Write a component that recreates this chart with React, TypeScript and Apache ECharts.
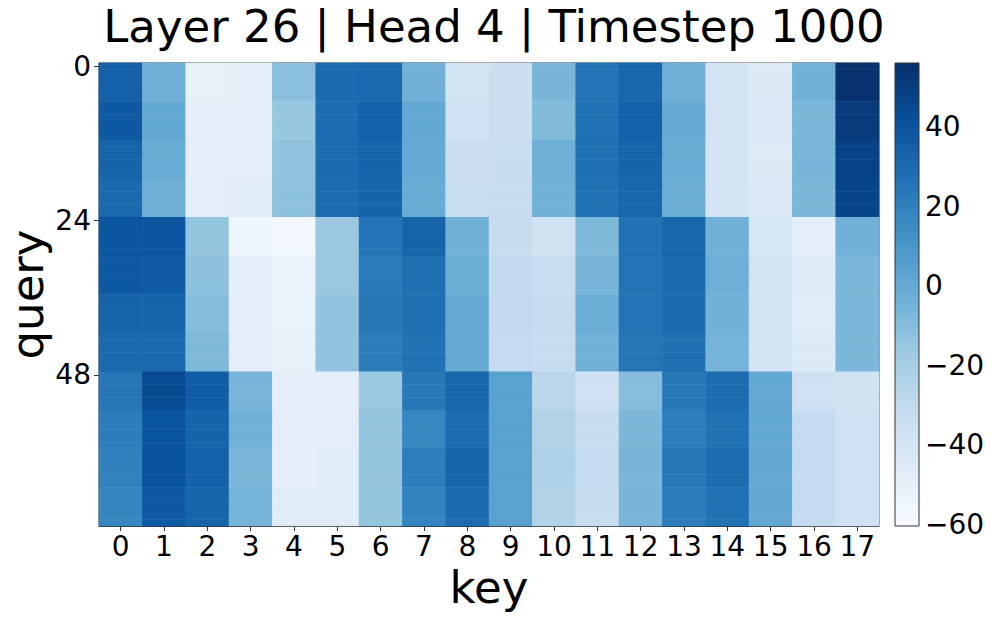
import React, { useEffect, useRef } from "react";
import * as echarts from "echarts";

const TITLE = "Layer 26 | Head 4 | Timestep 1000";
const KEYS = ["0", "1", "2", "3", "4", "5", "6", "7", "8", "9", "10", "11", "12", "13", "14", "15", "16", "17"];
const QUERY_COUNT = 72;
const QUERY_TICKS = [0, 24, 48];
const COLORBAR_TICKS = [-60, -40, -20, 0, 20, 40];
const V_MIN = -60.5;
const V_MAX = 56;
const BLUES = ["#f7fbff", "#deebf7", "#c6dbef", "#9ecae1", "#6baed6", "#4292c6", "#2171b5", "#08519c", "#08306b"];
const ROWS_PER_SEGMENT = 6;

// each segment = 6 consecutive query rows, values per key 0..17
const SEG_00 = [34, -3, -51, -50, -11, 30, 31, -4, -39, -35, -6, 26, 32, -3, -40, -45, -4, 55];
const SEG_06 = [38, 1, -50, -49, -15, 29, 34, 1, -37, -34, -9, 27, 34, 0, -39, -44, -7, 51];
const SEG_12 = [33, -1, -48, -48, -13, 30, 33, 0, -34, -32, -3, 28, 33, -1, -40, -45, -6, 48];
const SEG_18 = [31, -3, -48, -47, -12, 29, 33, -1, -33, -32, -4, 27, 32, -2, -40, -44, -7, 47];
const SEG_24 = [39, 39, -14, -55, -57, -16, 26, 33, -4, -32, -38, -8, 27, 32, -4, -41, -49, -4];
const SEG_30 = [38, 37, -12, -50, -53, -16, 23, 28, -2, -30, -33, -6, 26, 30, -3, -39, -46, -7];
const SEG_36 = [33, 33, -10, -50, -52, -13, 24, 28, 0, -30, -32, -2, 26, 30, -4, -40, -47, -7];
const SEG_42 = [31, 31, -8, -49, -51, -13, 22, 27, 0, -31, -32, -4, 25, 28, -5, -40, -45, -7];
const SEG_48 = [25, 44, 36, -6, -50, -49, -16, 24, 32, 4, -27, -36, -10, 24, 29, 1, -36, -38];
const SEG_54 = [22, 40, 33, -4, -48, -48, -14, 17, 29, 4, -24, -32, -7, 21, 27, 1, -31, -37];
const SEG_60 = [20, 41, 34, -7, -50, -47, -14, 21, 33, 4, -23, -31, -6, 24, 29, 1, -31, -37];
const SEG_66 = [18, 38, 33, -5, -47, -47, -14, 19, 30, 4, -24, -32, -6, 22, 27, 1, -31, -37];
const SEGMENTS = [SEG_00, SEG_06, SEG_12, SEG_18, SEG_24, SEG_30, SEG_36, SEG_42, SEG_48, SEG_54, SEG_60, SEG_66];

const FONT = "DejaVu Sans";

export default function App() {
  const ref = useRef<HTMLDivElement>(null);
  useEffect(() => {
    if (!ref.current) return;
    const chart = echarts.init(ref.current, null, { renderer: "svg" });
    const queries: string[] = [];
    for (let r = 0; r < QUERY_COUNT; r++) queries.push(String(r));
    const data: number[][] = [];
    for (let r = 0; r < QUERY_COUNT; r++) {
      const seg = SEGMENTS[Math.floor(r / ROWS_PER_SEGMENT)];
      for (let c = 0; c < KEYS.length; c++) data.push([c, r, seg[c]]);
    }
    const gradStops = BLUES.map((col, i) => ({ offset: 1 - i / (BLUES.length - 1), color: col })).reverse();
    chart.setOption({
      animation: false,
      backgroundColor: "#ffffff",
      textStyle: { fontFamily: FONT },
      title: {
        text: TITLE,
        left: 489,
        textAlign: "center",
        top: -1,
        textStyle: { fontFamily: FONT, fontSize: 45, fontWeight: "normal", color: "#000" },
      },
      grid: [
        {
          left: 99, top: 63, width: 780, height: 463, show: true,
          borderColor: "#333", borderWidth: 1, backgroundColor: "transparent",
          containLabel: false, outerBoundsMode: "none",
        },
        { left: 895, top: 63, width: 24, height: 463, show: false, containLabel: false, outerBoundsMode: "none" },
      ],
      xAxis: [
        {
          type: "category",
          gridIndex: 0,
          data: KEYS,
          name: "key",
          nameLocation: "middle",
          nameGap: 34,
          nameTextStyle: { fontFamily: FONT, fontSize: 45, color: "#000" },
          axisLine: { show: true, lineStyle: { color: "#333", width: 1 } },
          axisTick: { show: true, alignWithLabel: true, length: 5, lineStyle: { color: "#333" } },
          axisLabel: { fontFamily: FONT, fontSize: 28, color: "#000", margin: 6, interval: 0 },
          splitLine: { show: false },
        },
        { type: "value", gridIndex: 1, show: false, min: 0, max: 1 },
      ],
      yAxis: [
        {
          type: "category",
          gridIndex: 0,
          data: queries,
          inverse: true,
          name: "query",
          nameLocation: "middle",
          nameRotate: 90,
          nameGap: 49,
          nameMoveOverlap: false,
          nameTextStyle: { fontFamily: FONT, fontSize: 45, color: "#000" },
          axisLine: { show: true, lineStyle: { color: "#333", width: 1 } },
          axisTick: {
            show: true,
            alignWithLabel: true,
            length: 5,
            lineStyle: { color: "#333" },
            interval: (i: number) => QUERY_TICKS.indexOf(i) >= 0,
          },
          axisLabel: {
            fontFamily: FONT,
            fontSize: 28,
            color: "#000",
            margin: 8,
            interval: (i: number) => QUERY_TICKS.indexOf(i) >= 0,
          },
          splitLine: { show: false },
        },
        {
          type: "value",
          gridIndex: 1,
          position: "right",
          min: V_MIN,
          max: V_MAX,
          axisLine: { show: false },
          splitLine: { show: false },
          axisTick: { show: true, length: 5, lineStyle: { color: "#333" }, customValues: COLORBAR_TICKS },
          axisLabel: {
            fontFamily: FONT,
            fontSize: 28,
            color: "#000",
            margin: 6,
            customValues: COLORBAR_TICKS,
            formatter: (v: number) => (v < 0 ? "\u2212" + Math.abs(v) : String(v)),
          },
        },
      ],
      visualMap: {
        show: false,
        type: "continuous",
        min: V_MIN,
        max: V_MAX,
        seriesIndex: 0,
        inRange: { color: BLUES },
      },
      graphic: [
        {
          type: "rect",
          shape: { x: 895, y: 63, width: 24, height: 463 },
          style: {
            fill: { type: "linear", x: 0, y: 0, x2: 0, y2: 1, colorStops: gradStops },
            stroke: "#333",
            lineWidth: 1,
          },
          z: 10,
        },
      ],
      series: [
        {
          type: "heatmap",
          xAxisIndex: 0,
          yAxisIndex: 0,
          data,
          itemStyle: { borderWidth: 0 },
          emphasis: { disabled: true },
          progressive: 0,
        },
      ],
    });
    return () => chart.dispose();
  }, []);
  return <div ref={ref} style={{ position: "fixed", left: 0, top: 0, width: 996, height: 617 }} />;
}
